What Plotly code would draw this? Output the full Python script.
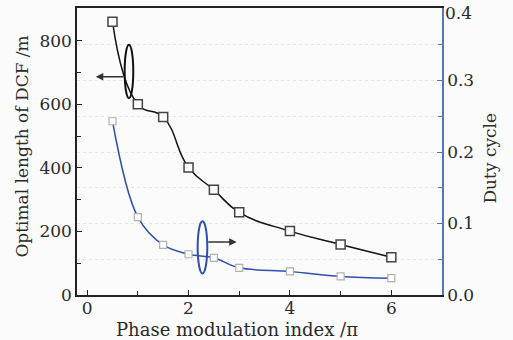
import plotly.graph_objects as go

# Data
pm_index = [0.5, 1, 1.5, 2, 2.5, 3, 4, 5, 6]
dcf_length = [860, 600, 560, 401, 331, 260, 201, 159, 119]
duty_cycle = [0.243, 0.109, 0.070, 0.057, 0.052, 0.038, 0.033, 0.026, 0.0235]

x_ticks = [0, 2, 4, 6]
y_ticks = [0, 200, 400, 600, 800]
y2_ticks = [0.0, 0.1, 0.2, 0.3, 0.4]
y2_labels = ["0.0", "0.1", "0.2", "0.3", "0.4"]

FONT = "DejaVu Serif"
BLUE = "#2f4fae"
AXBLUE = "#5a74b8"
TXT = "#2a2a2a"

fig = go.Figure()
fig.add_trace(go.Scatter(
    x=pm_index, y=dcf_length, mode="lines+markers",
    line=dict(color="#111111", width=1.5, shape="spline", smoothing=1.3),
    marker=dict(symbol="square", size=9, color="white",
                line=dict(color="#444444", width=1.5)),
    yaxis="y", showlegend=False))
fig.add_trace(go.Scatter(
    x=pm_index, y=duty_cycle, mode="lines+markers",
    line=dict(color=BLUE, width=1.5, shape="spline", smoothing=1.0),
    marker=dict(symbol="square", size=7, color="white",
                line=dict(color="#b0b0b0", width=1.2)),
    yaxis="y2", showlegend=False))

tickfont = dict(family=FONT, size=17, color=TXT)

# the top tick label would be clipped by the page edge, so it is drawn as an annotation
y2_ticktext = y2_labels[:-1] + [""]

fig.update_layout(
    width=513, height=340,
    margin=dict(l=77, r=71, t=6, b=45),
    paper_bgcolor="#fbfbfb", plot_bgcolor="#fbfbfb",
    xaxis=dict(range=[-0.2, 7], tickvals=x_ticks, ticks="inside", ticklen=5,
               tickcolor="#222", showline=True, linecolor="#222", linewidth=1.5,
               mirror=True, showgrid=False, zeroline=False, tickfont=tickfont,
               ticklabelstandoff=-3,
               minor=dict(dtick=1, ticks="inside", ticklen=4, tickcolor="#222")),
    yaxis=dict(range=[0, 903], tickvals=y_ticks, ticks="inside", ticklen=5,
               tickcolor="#222", showline=True, linecolor="#222", linewidth=1.5,
               showgrid=False, zeroline=False, tickfont=tickfont,
               minor=dict(dtick=100, ticks="inside", ticklen=4, tickcolor="#222")),
    yaxis2=dict(range=[0, 0.4014], tickvals=y2_ticks, ticktext=y2_ticktext,
                overlaying="y", side="right", ticks="inside", ticklen=5,
                tickcolor=AXBLUE, showline=True, linecolor=AXBLUE, linewidth=1.5,
                showgrid=True, gridcolor="#e6e6e6", griddash="dot", gridwidth=1,
                zeroline=False, tickfont=tickfont,
                minor=dict(dtick=0.05, ticks="inside", ticklen=4, tickcolor=AXBLUE,
                           showgrid=True, gridcolor="#e6e6e6", griddash="dot")),
    shapes=[
        dict(type="circle", xref="x", yref="y", x0=0.74, x1=0.91, y0=619, y1=787,
             line=dict(color="#111111", width=2)),
        dict(type="circle", xref="x", yref="y", x0=2.18, x1=2.37, y0=68, y1=232,
             line=dict(color=BLUE, width=2)),
    ],
    annotations=[
        dict(x=0.17, y=687, ax=0.74, ay=687, xref="x", yref="y", axref="x", ayref="y",
             text="", showarrow=True, arrowhead=2, arrowsize=1, arrowwidth=1.5,
             arrowcolor="#333333"),
        dict(x=2.95, y=167, ax=2.36, ay=167, xref="x", yref="y", axref="x", ayref="y",
             text="", showarrow=True, arrowhead=2, arrowsize=1, arrowwidth=1.5,
             arrowcolor="#333333"),
        dict(text=y2_labels[-1], xref="paper", yref="y2", x=1, y=y2_ticks[-1],
             xanchor="left", yanchor="middle", xshift=1, yshift=-4,
             showarrow=False, font=tickfont),
        dict(text="Phase modulation index /π", xref="paper", yref="paper",
             x=0.437, y=-0.12, xanchor="center", yanchor="middle", showarrow=False,
             font=dict(family=FONT, size=18, color=TXT)),
        dict(text="Optimal length of DCF /m", xref="paper", yref="paper",
             x=-0.1507, y=0.517, xanchor="center", yanchor="middle", showarrow=False,
             textangle=-90, font=dict(family=FONT, size=17, color=TXT)),
        dict(text="Duty cycle", xref="paper", yref="paper",
             x=1.1315, y=0.479, xanchor="center", yanchor="middle", showarrow=False,
             textangle=-90, font=dict(family=FONT, size=17, color=TXT)),
    ],
)

fig.write_html("out.html", config={"displayModeBar": False},
               post_script="document.body.style.margin='0';")
